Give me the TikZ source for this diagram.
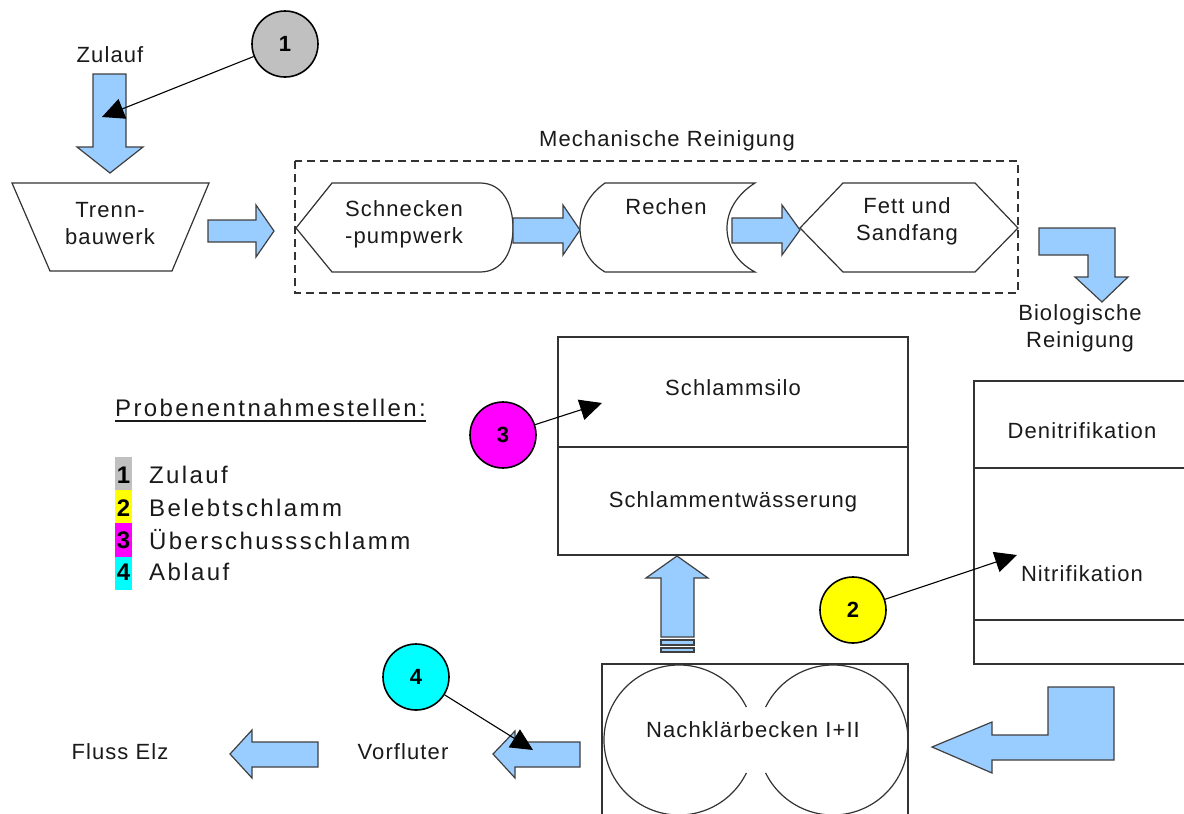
\documentclass[tikz,border=0pt]{standalone}
\usepackage{fontspec}
\setmainfont[LetterSpace=5]{Liberation Sans}
\newfontfamily\legfont[LetterSpace=10]{Liberation Sans}
\usetikzlibrary{arrows.meta}
\definecolor{arrowblue}{HTML}{99CCFF}
\definecolor{arrowline}{HTML}{404040}
\definecolor{shapeline}{HTML}{333333}
\definecolor{textc}{HTML}{1A1A1A}
\definecolor{grayone}{HTML}{C0C0C0}
\definecolor{yellowtwo}{HTML}{FFFF00}
\definecolor{magthree}{HTML}{FF00FF}
\definecolor{cyanfour}{HTML}{00FFFF}
\tikzset{
  blk/.style={fill=arrowblue, draw=arrowline, line width=1.2pt, line join=miter},
  shp/.style={draw=shapeline, line width=1.2pt},
  lbl/.style={font=\fontsize{22}{27}\selectfont, text=textc, align=center, inner sep=0pt},
  leg/.style={font=\legfont\fontsize{24}{28}\selectfont, text=textc, inner sep=0pt, anchor=west},
  legnum/.style={font=\fontsize{24}{28}\selectfont\bfseries, text=black, inner sep=0pt},
  num/.style={circle, draw=black, line width=1.6pt, minimum size=66pt, inner sep=0pt,
              font=\fontsize{22}{26}\selectfont\bfseries, text=black},
  samp/.style={draw=black, line width=1.1pt, -{Triangle[length=22pt,width=21pt]}}
}
\begin{document}
\begin{tikzpicture}[x=1pt,y=-1pt]
\useasboundingbox (0,0) rectangle (1184,814);
\fill[white] (0,0) rectangle (1184,814);

% ---------- top row ----------
\node[lbl] (zulauf) at (110,55) {Zulauf};
\draw[blk] (93,74) -- (126,74) -- (126,147) -- (143,147) -- (110,173) -- (77,147) -- (93,147) -- cycle;

\draw[shp, fill=white] (12,183) -- (209,183) -- (172,271) -- (50,271) -- cycle;
\node[lbl] (trenn) at (110,224) {Trenn-\\bauwerk};

\draw[blk] (208,220) -- (256,220) -- (256,205) -- (274,231) -- (256,257) -- (256,242) -- (208,242) -- cycle;

\draw[shapeline, line width=1.5pt, dash pattern=on 8pt off 5pt] (295,161) rectangle (1018,293);
\node[lbl] (mech) at (667,141) {Mechanische Reinigung};

% Schneckenpumpwerk
\draw[shp, fill=white] (296,228) -- (332,183) -- (480,183)
   .. controls (503,183) and (513,205) .. (513,228)
   .. controls (513,251) and (503,272) .. (480,272) -- (332,272) -- cycle;
\node[lbl] (schnecke) at (404,224) {Schnecken\\-pumpwerk};

\draw[blk] (513,218) -- (563,218) -- (563,205) -- (580,230) -- (563,255) -- (563,243) -- (513,243) -- cycle;

% Rechen
\draw[shp, fill=white] (605,183) -- (755,183)
   .. controls (736,195) and (727,212) .. (727,228)
   .. controls (727,245) and (736,262) .. (755,272) -- (605,272)
   .. controls (588,262) and (580,245) .. (580,228)
   .. controls (580,212) and (588,195) .. (605,183) -- cycle;
\node[lbl] (rechen) at (666,207) {Rechen};

\draw[blk] (732,218) -- (782,218) -- (782,205) -- (800,230) -- (782,255) -- (782,243) -- (732,243) -- cycle;

% Fett und Sandfang
\draw[shp, fill=white] (800,228) -- (843,183) -- (975,183) -- (1018,228) -- (975,272) -- (843,272) -- cycle;
\node[lbl] (fett) at (907,221) {Fett und\\Sandfang};

% bent arrow to biology
\draw[blk] (1039,228) -- (1115,228) -- (1115,277) -- (1128,277) -- (1102,302) -- (1075,277) -- (1088,277) -- (1088,255) -- (1039,255) -- cycle;
\node[lbl] (bio) at (1080,328) {Biologische\\Reinigung};

% ---------- legend ----------
\node[leg] (prob) at (115,408) {Probenentnahmestellen:};
\draw[textc, line width=1.1pt] ([yshift=-4pt]prob.south west) -- ([yshift=-4pt]prob.south east);

\fill[grayone] (115,457) rectangle (132,490);
\fill[yellowtwo] (115,490) rectangle (132,523);
\fill[magthree] (115,523) rectangle (132,557);
\fill[cyanfour] (115,557) rectangle (132,590);
\node[legnum] (l1) at (123.5,475) {1};
\node[legnum] (l2) at (123.5,508) {2};
\node[legnum] (l3) at (123.5,540) {3};
\node[legnum] (l4) at (123.5,572) {4};
\node[leg] (lt1) at (149,475) {Zulauf};
\node[leg] (lt2) at (149,508) {Belebtschlamm};
\node[leg] (lt3) at (149,540) {Überschussschlamm};
\node[leg] (lt4) at (149,572) {Ablauf};

% ---------- sludge ----------
\draw[shp, fill=white] (558,337) rectangle (908,555);
\draw[shp] (558,447) -- (908,447);
\node[lbl] (silo) at (733,388) {Schlammsilo};
\node[lbl] (entw) at (733,502) {Schlammentwässerung};

\draw[blk] (677,556) -- (708,578) -- (694,578) -- (694,637) -- (661,637) -- (661,578) -- (646,578) -- cycle;
\draw[blk] (661,640) rectangle (694,645);
\draw[blk] (661,648) rectangle (694,652);

% ---------- biology ----------
\draw[shp] (1184,381) -- (974,381) -- (974,664) -- (1184,664);
\draw[shp] (974,468) -- (1184,468);
\draw[shp] (974,620) -- (1184,620);
\node[lbl] (deni) at (1082,431) {Denitrifikation};
\node[lbl] (nitri) at (1082,574) {Nitrifikation};

\draw[blk] (1048,687) -- (1114,687) -- (1114,760) -- (992,760) -- (992,773) -- (932,747) -- (992,722) -- (992,735) -- (1048,735) -- cycle;

% ---------- Nachklaerbecken ----------
\draw[shp] (602,814) -- (602,664) -- (908,664) -- (908,814);
\draw[shp] ([shift={(26:75)}]679,740) arc[start angle=26, end angle=334, radius=75];
\draw[shp] ([shift={(-154:75)}]833,740) arc[start angle=-154, end angle=154, radius=75];
\node[lbl] (nkb) at (753,730) {Nachklärbecken I+II};

% ---------- outflow ----------
\draw[blk] (580,742) -- (515,742) -- (515,731) -- (493,754) -- (515,778) -- (515,767) -- (580,767) -- cycle;
\node[lbl] (vorfl) at (403,752) {Vorfluter};
\draw[blk] (318,742) -- (252,742) -- (252,730) -- (230,754) -- (252,778) -- (252,767) -- (318,767) -- cycle;
\node[lbl] (fluss) at (120,752) {Fluss Elz};

% ---------- sampling points ----------
\node[num, fill=grayone] (c1) at (285,44) {1};
\node[num, fill=yellowtwo] (c2) at (853,610) {2};
\node[num, fill=magthree] (c3) at (503,435) {3};
\node[num, fill=cyanfour] (c4) at (416,677) {4};
\coordinate (t1) at (102,117);
\coordinate (t2) at (1017,555);
\coordinate (t3) at (602,403);
\coordinate (t4) at (533,750);
\draw[samp] (c1) -- (t1);
\draw[samp] (c2) -- (t2);
\draw[samp] (c3) -- (t3);
\draw[samp] (c4) -- (t4);
\end{tikzpicture}
\end{document}
